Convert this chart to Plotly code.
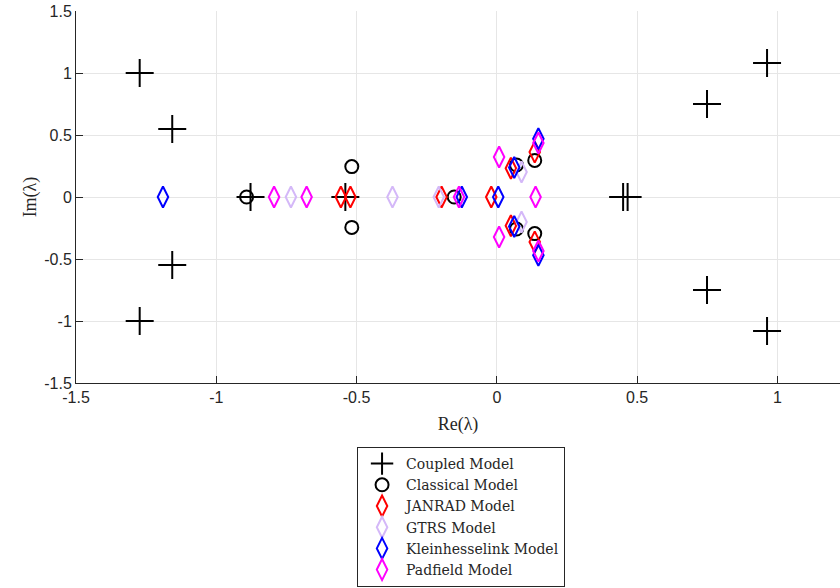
import plotly.graph_objects as go

# Eigenvalues (real, imaginary) per model
coupled_re = [-1.273, -1.273, -1.157, -1.157, -0.878, -0.540, 0.450, 0.466, 0.749, 0.749, 0.963, 0.963]
coupled_im = [1.00, -1.00, 0.548, -0.548, 0.0, 0.0, 0.0, 0.0, 0.75, -0.75, 1.08, -1.08]

classical_re = [-0.892, -0.517, -0.517, -0.152, 0.070, 0.070, 0.135, 0.135]
classical_im = [0.0, 0.245, -0.245, 0.0, 0.258, -0.258, 0.295, -0.295]

janrad_re = [-0.556, -0.522, -0.197, -0.020, 0.050, 0.050, 0.135, 0.135]
janrad_im = [0.0, 0.0, 0.0, 0.0, 0.232, -0.232, 0.362, -0.362]

gtrs_re = [-0.734, -0.372, -0.207, 0.088, 0.088]
gtrs_im = [0.0, 0.0, 0.0, 0.202, -0.202]

klein_re = [-1.190, -0.125, 0.005, 0.062, 0.062, 0.148, 0.148]
klein_im = [0.0, 0.0, 0.0, 0.238, -0.238, 0.470, -0.470]

padfield_re = [-0.794, -0.678, -0.135, 0.138, 0.008, 0.008, 0.148, 0.148]
padfield_im = [0.0, 0.0, 0.0, 0.0, 0.322, -0.322, 0.435, -0.435]

x_ticks = [-1.5, -1, -0.5, 0, 0.5, 1]
y_ticks = [-1.5, -1, -0.5, 0, 0.5, 1, 1.5]

series = [
    ("Coupled Model", coupled_re, coupled_im, "cross-thin-open", "black", 20),
    ("Classical Model", classical_re, classical_im, "circle-open", "black", 13),
    ("JANRAD Model", janrad_re, janrad_im, "diamond-tall-open", "#ff0000", 15),
    ("GTRS Model", gtrs_re, gtrs_im, "diamond-tall-open", "#d4b8f8", 15),
    ("Kleinhesselink Model", klein_re, klein_im, "diamond-tall-open", "#0000ff", 15),
    ("Padfield Model", padfield_re, padfield_im, "diamond-tall-open", "#ff00ff", 15),
]

fig = go.Figure()
for name, xs, ys, sym, col, sz in series:
    fig.add_trace(go.Scatter(
        x=xs, y=ys, mode="markers", name=name,
        marker=dict(symbol=sym, size=sz, color=col,
                    line=dict(color=col, width=2)),
    ))

tick_font = dict(family="Liberation Sans Narrow, Liberation Sans, Arial", size=16, color="#262626")
serif = "Liberation Serif, DejaVu Serif, serif"

fig.update_layout(
    width=840, height=588,
    margin=dict(l=76, r=0, t=11, b=205),
    plot_bgcolor="white", paper_bgcolor="white",
    showlegend=True,
    legend=dict(
        x=0.504, y=-0.172, xanchor="center", yanchor="top",
        bgcolor="white", bordercolor="#262626", borderwidth=1,
        font=dict(family="DejaVu Serif, serif", size=14, color="#262626"),
        tracegroupgap=0, itemsizing="trace", itemwidth=38,
    ),
    xaxis=dict(
        range=[-1.5, 1.223], tickvals=x_ticks, ticktext=[f"{v:g}" for v in x_ticks],
        showgrid=True, gridcolor="#e6e6e6", gridwidth=1, zeroline=False,
        showline=True, linecolor="#262626", linewidth=1,
        ticks="inside", ticklen=7, tickcolor="#262626",
        tickfont=tick_font, automargin=False,
        title=dict(text="Re(λ)", font=dict(family=serif, size=18, color="#262626"), standoff=12),
    ),
    yaxis=dict(
        range=[-1.5, 1.5], tickvals=y_ticks, ticktext=[f"{v:g}" for v in y_ticks],
        showgrid=True, gridcolor="#e6e6e6", gridwidth=1, zeroline=False,
        showline=True, linecolor="#262626", linewidth=1,
        ticks="inside", ticklen=7, tickcolor="#262626",
        tickfont=tick_font, automargin=False,
        title=dict(text="Im(λ)", font=dict(family=serif, size=18, color="#262626"), standoff=2),
    ),
)

fig.write_html(
    "out.html",
    config={"displayModeBar": False},
    post_script="document.body.style.margin='0';document.body.style.overflow='hidden';",
)
